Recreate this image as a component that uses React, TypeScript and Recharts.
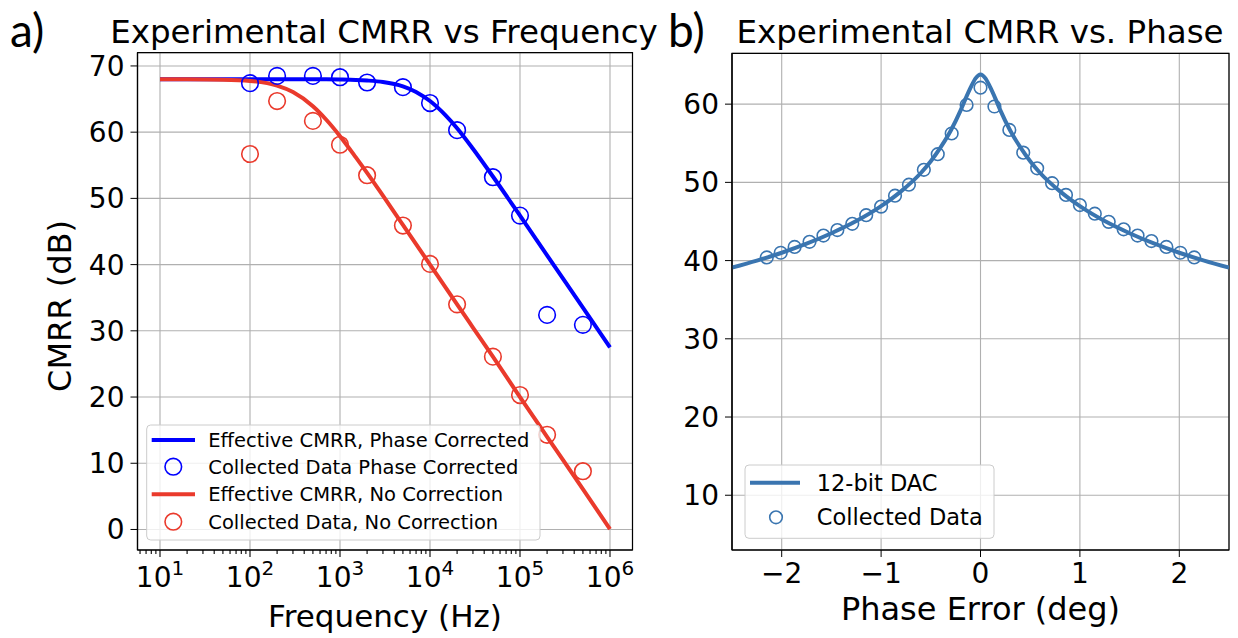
import React from 'react';
import {
  ComposedChart, Line, Scatter, XAxis, YAxis, CartesianGrid, ReferenceArea,
} from 'recharts';

const FONT = '"DejaVu Sans", sans-serif';
const BLUE = '#0000ff';
const RED = '#ea3a2c';
const STEEL = '#3a75b0';
const GRID = '#b0b0b0';

// a) CMRR vs frequency: fitted curves
const freqFit = [10, 20, 50, 100, 200, 300, 500, 700, 1000, 1500, 2000, 3000, 5000, 7000,
  10000, 15000, 20000, 30000, 50000, 100000, 200000, 500000, 1000000];
const fitCorrected = [68.0, 68.0, 68.0, 68.0, 68.0, 68.0, 67.99, 67.98, 67.95, 67.89, 67.8, 67.58,
  66.92, 66.08, 64.7, 62.5, 60.6, 57.5, 53.3, 47.4, 41.4, 33.5, 27.5];
const fitUncorrected = [68.0, 67.99, 67.93, 67.74, 67.03, 66.06, 63.91, 61.91, 59.4, 56.2, 53.85,
  50.4, 46.0, 43.1, 40.0, 36.5, 34.0, 30.5, 26.1, 20.0, 14.0, 6.1, 0.05];

// a) measured points
const freqMeasured = [100, 200, 500, 1000, 2000, 5000, 10000, 20000, 50000, 100000, 200000, 500000];
const measCorrected = [67.4, 68.5, 68.5, 68.3, 67.5, 66.8, 64.4, 60.3, 53.2, 47.4, 32.4, 30.9];
const measUncorrected = [56.7, 64.7, 61.7, 58.1, 53.5, 45.9, 40.1, 34.0, 26.1, 20.3, 14.3, 8.8];

const freqMajorTicks = [10, 100, 1000, 10000, 100000, 1000000];
const freqDomain = [5.623, 1778279];
const cmrrTicks = [0, 10, 20, 30, 40, 50, 60, 70];
const cmrrDomain = [-3.1, 72.0];

// b) CMRR vs phase error
const phaseFit = [-2.5, -2.25, -2.0, -1.75, -1.5, -1.25, -1.0, -0.8, -0.6, -0.5, -0.4, -0.3, -0.2,
  -0.15, -0.1, -0.05, 0, 0.05, 0.1, 0.15, 0.2, 0.3, 0.4, 0.5, 0.6, 0.8, 1.0, 1.25, 1.5, 1.75, 2.0, 2.25, 2.5];
const phaseFitCmrr = [39.1, 40.0, 41.0, 42.16, 43.5, 45.05, 46.96, 48.85, 51.2, 52.7, 54.5, 56.6, 59.2,
  60.7, 62.1, 63.3, 63.8, 63.3, 62.1, 60.7, 59.2, 56.6, 54.5, 52.7, 51.2, 48.85, 46.96, 45.05, 43.5, 42.16, 41.0, 40.0, 39.1];
const phaseMeas = [-2.15, -2.01, -1.87, -1.72, -1.58, -1.44, -1.29, -1.15, -1.0, -0.86, -0.72, -0.57, -0.43,
  -0.29, -0.14, 0, 0.14, 0.29, 0.43, 0.57, 0.72, 0.86, 1.0, 1.15, 1.29, 1.44, 1.58, 1.72, 1.87, 2.01, 2.15];
const phaseMeasCmrr = [40.4, 41.0, 41.75, 42.4, 43.2, 43.9, 44.7, 45.8, 46.9, 48.3, 49.7, 51.6, 53.6,
  56.25, 59.9, 62.1, 59.7, 56.7, 53.8, 51.8, 49.9, 48.4, 47.1, 46.0, 44.95, 44.0, 43.2, 42.5, 41.75, 41.0, 40.4];
const phaseTicks = [-2, -1, 0, 1, 2];
const phaseDomain = [-2.5, 2.5];
const phaseCmrrTicks = [10, 20, 30, 40, 50, 60];
const phaseCmrrDomain = [3.0, 66.5];

const freqMinorTicks = freqMajorTicks.slice(0, 5).flatMap((d) => [2, 3, 4, 5, 6, 7, 8, 9].map((m) => d * m));
const freqAllTicks = [6, 7, 8, 9, ...freqMajorTicks, ...freqMinorTicks].sort((a, b) => a - b);

const fitRows = freqFit.map((f, i) => ({ f, corrected: fitCorrected[i], uncorrected: fitUncorrected[i] }));
const measRows = freqMeasured.map((f, i) => ({ f, corrected: measCorrected[i], uncorrected: measUncorrected[i] }));
const phaseFitRows = phaseFit.map((p, i) => ({ p, v: phaseFitCmrr[i] }));
const phaseMeasRows = phaseMeas.map((p, i) => ({ p, v: phaseMeasCmrr[i] }));

const tickStyle = { fontFamily: FONT, fontSize: 28, fill: '#000' };

const LogTick = (props: any) => {
  const { x, y, payload } = props;
  const lg = Math.log10(payload.value);
  const exp = Math.round(lg);
  const major = Math.abs(lg - exp) < 1e-6;
  return (
    <g>
      <line x1={x} x2={x} y1={y} y2={y + (major ? 7 : 4)} stroke="#000" strokeWidth={1.1} />
      {major && (
        <text x={x} y={y + 37} textAnchor="middle" fontFamily={FONT} fontSize={28} fill="#000">
          10<tspan dy={-12} fontSize={20}>{exp}</tspan>
        </text>
      )}
    </g>
  );
};

const ring = (color: string, r: number, w: number) => (p: any) => (
  <circle cx={p.cx} cy={p.cy} r={r} fill="none" stroke={color} strokeWidth={w} />
);

const FreqChart = () => (
  <ComposedChart width={660} height={638} margin={{ top: 52.7, right: 27.5, left: 77.5, bottom: 48 }}>
    <XAxis xAxisId="grid" type="number" dataKey="f" scale="log" domain={freqDomain} ticks={freqMajorTicks}
      allowDataOverflow hide />
    <CartesianGrid xAxisId="grid" stroke={GRID} strokeWidth={1.1} />
    <XAxis type="number" dataKey="f" scale="log" domain={freqDomain} ticks={freqAllTicks} interval={0}
      allowDataOverflow height={40} tickSize={0} tickMargin={0} tickLine={false}
      axisLine={{ stroke: '#000', strokeWidth: 1.2 }} tick={<LogTick />} />
    <YAxis type="number" domain={cmrrDomain} ticks={cmrrTicks} interval={0} allowDataOverflow width={60}
      tickSize={7} tickMargin={6} tick={tickStyle} tickLine={{ stroke: '#000' }}
      axisLine={{ stroke: '#000', strokeWidth: 1.2 }} />
    <Line data={fitRows} dataKey="corrected" type="monotone" stroke={BLUE} strokeWidth={4} dot={false}
      activeDot={false} isAnimationActive={false} />
    <Scatter data={measRows} dataKey="corrected" shape={ring(BLUE, 8.3, 1.6)} isAnimationActive={false} />
    <Line data={fitRows} dataKey="uncorrected" type="monotone" stroke={RED} strokeWidth={4} dot={false}
      activeDot={false} isAnimationActive={false} />
    <Scatter data={measRows} dataKey="uncorrected" shape={ring(RED, 8.3, 1.6)} isAnimationActive={false} />
    <ReferenceArea x1={freqDomain[0]} x2={freqDomain[1]} y1={cmrrDomain[0]} y2={cmrrDomain[1]}
      fill="none" fillOpacity={0} stroke="#000" strokeWidth={1.2} ifOverflow="visible" />
  </ComposedChart>
);

const PhaseChart = () => (
  <ComposedChart width={578} height={638} margin={{ top: 53.3, right: 9, left: 22, bottom: 48 }}>
    <CartesianGrid stroke={GRID} strokeWidth={1.1} />
    <XAxis type="number" dataKey="p" domain={phaseDomain} ticks={phaseTicks} interval={0} allowDataOverflow
      height={40} tickSize={7} tickMargin={6} tick={tickStyle} tickLine={{ stroke: '#000' }}
      tickFormatter={(v: number) => String(v).replace('-', '\u2212')}
      axisLine={{ stroke: '#000', strokeWidth: 1.2 }} />
    <YAxis type="number" domain={phaseCmrrDomain} ticks={phaseCmrrTicks} interval={0} allowDataOverflow
      width={50} tickSize={7} tickMargin={6} tick={tickStyle} tickLine={{ stroke: '#000' }}
      axisLine={{ stroke: '#000', strokeWidth: 1.2 }} />
    <Line data={phaseFitRows} dataKey="v" type="monotone" stroke={STEEL} strokeWidth={4} dot={false}
      activeDot={false} isAnimationActive={false} />
    <Scatter data={phaseMeasRows} dataKey="v" shape={ring(STEEL, 6.3, 1.6)} isAnimationActive={false} />
    <ReferenceArea x1={phaseDomain[0]} x2={phaseDomain[1]} y1={phaseCmrrDomain[0]} y2={phaseCmrrDomain[1]}
      fill="none" fillOpacity={0} stroke="#000" strokeWidth={1.2} ifOverflow="visible" />
  </ComposedChart>
);

const Overlay = () => (
  <svg width={1238} height={638} style={{ position: 'absolute', left: 0, top: 0, pointerEvents: 'none' }}>
    <text x={10} y={47} fontFamily="Lato, sans-serif" fontSize={46} fill="#000">a)</text>
    <text x={668} y={47} fontFamily="Lato, sans-serif" fontSize={46} fill="#000">b)</text>
    <g fontFamily={FONT} fill="#000">
      <text x={384} y={43} fontSize={32.5} textAnchor="middle">Experimental CMRR vs Frequency</text>
      <text x={980} y={43} fontSize={32.5} textAnchor="middle">Experimental CMRR vs. Phase</text>
      <text x={385} y={627} fontSize={31} textAnchor="middle">Frequency (Hz)</text>
      <text x={980.5} y={620} fontSize={32} textAnchor="middle">Phase Error (deg)</text>
      <text transform="translate(71,306) rotate(-90)" fontSize={32} textAnchor="middle">CMRR (dB)</text>
    </g>
    {/* legend a) */}
    <rect x={146.7} y={425} width={393.3} height={115} rx={4} fill="#fff" fillOpacity={0.8} stroke="#cccccc" />
    <line x1={151.7} x2={195} y1={440} y2={440} stroke={BLUE} strokeWidth={4} />
    <circle cx={173.3} cy={466.7} r={8.3} fill="none" stroke={BLUE} strokeWidth={1.6} />
    <line x1={151.7} x2={195} y1={494.3} y2={494.3} stroke={RED} strokeWidth={4} />
    <circle cx={173.3} cy={521.7} r={8.3} fill="none" stroke={RED} strokeWidth={1.6} />
    <g fontFamily={FONT} fontSize={19.5} fill="#000">
      <text x={208.3} y={447}>Effective CMRR, Phase Corrected</text>
      <text x={208.3} y={473.7}>Collected Data Phase Corrected</text>
      <text x={208.3} y={501.3}>Effective CMRR, No Correction</text>
      <text x={208.3} y={528.7}>Collected Data, No Correction</text>
    </g>
    {/* legend b) */}
    <rect x={745} y={465} width={249} height={73.3} rx={4} fill="#fff" fillOpacity={0.8} stroke="#cccccc" />
    <line x1={750} x2={800} y1={482.7} y2={482.7} stroke={STEEL} strokeWidth={4} />
    <circle cx={776} cy={517.3} r={6.3} fill="none" stroke={STEEL} strokeWidth={1.6} />
    <g fontFamily={FONT} fontSize={22.5} fill="#000">
      <text x={816.7} y={490.7}>12-bit DAC</text>
      <text x={816.7} y={525.3}>Collected Data</text>
    </g>
  </svg>
);

export default function App() {
  return (
    <div style={{ position: 'absolute', left: 0, top: 0, width: 1238, height: 638, background: '#fff' }}>
      <div style={{ position: 'absolute', left: 0, top: 0 }}>
        <FreqChart />
      </div>
      <div style={{ position: 'absolute', left: 660, top: 0 }}>
        <PhaseChart />
      </div>
      <Overlay />
    </div>
  );
}
